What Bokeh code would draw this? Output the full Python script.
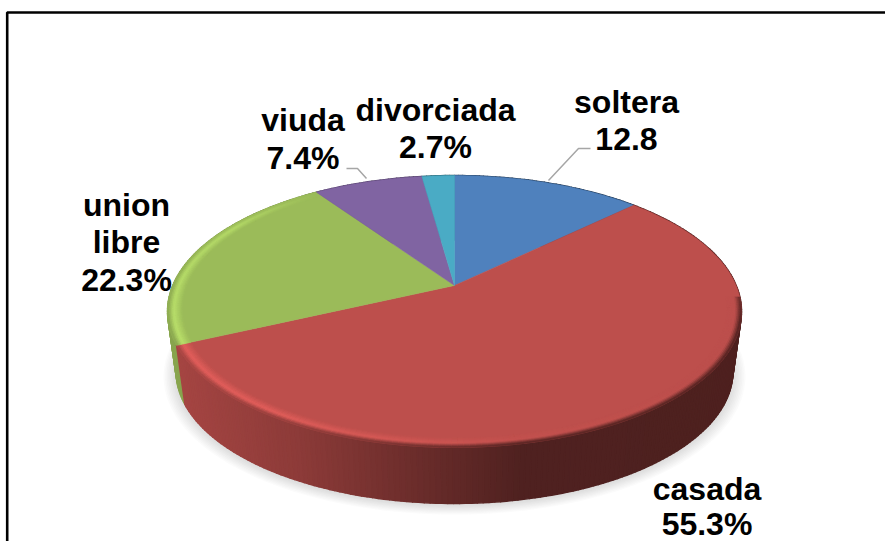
import numpy as np
from bokeh.plotting import figure
from bokeh.models import Range1d
from bokeh.core.properties import value
from bokeh.embed import file_html
from bokeh.resources import INLINE

# ---- data
categories = ["soltera", "casada", "union libre", "viuda", "divorciada"]
percent = [12.8, 55.3, 22.3, 7.4, 2.7]
label_lines = [["soltera", "12.8"], ["casada", "55.3%"], ["union", "libre", "22.3%"],
               ["viuda", "7.4%"], ["divorciada", "2.7%"]]
face_colors = ["#4f81bd", "#bd4f4c", "#9bbb59", "#8064a2", "#4aabc5"]

# ---- layout of the projected 3D pie
W, H = 885, 541
CX, CY, A, B, K = 454.0, 285.0, 281.7, 131.0, 0.191
BASE_S, BASE_DY = 0.97, 60.9
label_x = [626, 706.5, 126, 302.5, 435]
label_base = [[113, 150], [500, 535], [215.5, 253, 291], [131, 169], [120.5, 158]]
TEXT_DY = -11.5
FONT = value("Liberation Sans")


def proj(t, r=1.0, s=1.0, dy=0.0):
    t = np.radians(t)
    u, v = np.sin(t) * r, np.cos(t) * r
    w = 1 + K * v
    return CX + A * u / w * s, CY - B * v / w * s + dy


def rgb(c):
    return np.array([int(c[i:i + 2], 16) for i in (1, 3, 5)], float)


def hexc(a):
    a = np.clip(np.round(a), 0, 255).astype(int)
    return "#%02x%02x%02x" % tuple(a)


def side_factor(x):
    return np.interp(x, [170, 300, 420, 520, 745], [0.88, 0.74, 0.56, 0.42, 0.41])


ends = np.minimum(np.cumsum(percent), 100.0) * 3.6
starts = np.concatenate([[0.0], ends[:-1]])

p = figure(width=W, height=H, x_range=Range1d(0, W), y_range=Range1d(H, 0),
           output_backend="svg", toolbar_location=None, min_border=0,
           outline_line_color=None, background_fill_color="white")
p.axis.visible = False
p.grid.visible = False
p.styles = {"position": "absolute", "left": "0px", "top": "0px"}

# frame (top and left only, as in the picture)
p.line([6.7, 6.7, W], [H, 12, 12], line_color="black", line_width=2.6)

# soft shadow under the pie
tt = np.linspace(0, 360, 181)
for i in range(9):
    x, y = proj(tt, r=1.0, s=BASE_S * (1.045 - i * 0.0055), dy=BASE_DY + 4 - i * 0.3)
    p.patch(list(x), list(y), fill_color="#808080", fill_alpha=0.035, line_color=None)

# side wall: quads between top rim and base rim, far ones first
segs = []
for a0, a1, col in zip(starts, ends, face_colors):
    n = max(int((a1 - a0) / 1.0), 1)
    e = np.linspace(a0, a1, n + 1)
    for t0, t1 in zip(e[:-1], e[1:]):
        segs.append((t0, t1, col))
segs.sort(key=lambda s: -np.cos(np.radians((s[0] + s[1]) / 2)))
xs, ys, cs = [], [], []
for t0, t1, col in segs:
    x0, y0 = proj(t0)
    x1, y1 = proj(t1)
    x2, y2 = proj(t1, s=BASE_S, dy=BASE_DY)
    x3, y3 = proj(t0, s=BASE_S, dy=BASE_DY)
    xs.append([x0, x1, x2, x3])
    ys.append([y0, y1, y2, y3])
    cs.append(hexc(rgb(col) * side_factor((x0 + x1) / 2)))
p.patches(xs, ys, fill_color=cs, line_color=cs, line_width=1.5, line_join="round")

# top faces
for a0, a1, col in zip(starts, ends, face_colors):
    e = np.linspace(a0, a1, max(int(a1 - a0), 2) + 1)
    x, y = proj(e)
    p.patch([CX] + list(x), [CY] + list(y), fill_color=col, line_color=col, line_width=0.5)

# bevel along the near rim
bx, by, bc = [], [], []
radii = np.linspace(0.95, 1.0, 11)
for a0, a1, col in zip(starts, ends, face_colors):
    lo, hi = max(a0, 95.0), min(a1, 325.0)
    if hi <= lo:
        continue
    e = np.linspace(lo, hi, int((hi - lo) / 1.0) + 2)
    base = rgb(col)
    for t0, t1 in zip(e[:-1], e[1:]):
        tm = (t0 + t1) / 2
        v = np.cos(np.radians(tm))
        g = np.interp(v, [-0.25, 0.45], [1, 0]) if v > -0.25 else 1.0
        h = np.interp(tm, [130, 170, 190, 215, 245, 300, 325], [0, 0.2, 0.6, 1, 1, 0.8, 0])
        xm, _ = proj(tm)
        outer = base * (1 - g * (1 - side_factor(xm)))
        high = np.minimum(base * (1 + 0.2 * h), 255)
        for j, (r0, r1) in enumerate(zip(radii[:-1], radii[1:])):
            q = (j + 0.5) / (len(radii) - 1)
            if q < 0.6:
                c = base + (high - base) * q / 0.6
            else:
                c = high + (outer - high) * (q - 0.6) / 0.4
            x0, y0 = proj(t0, r=r0)
            x1, y1 = proj(t1, r=r0)
            x2, y2 = proj(t1, r=r1)
            x3, y3 = proj(t0, r=r1)
            bx.append([x0, x1, x2, x3])
            by.append([y0, y1, y2, y3])
            bc.append(hexc(c))
p.patches(bx, by, fill_color=bc, line_color=bc, line_width=0.8)

# leader lines
p.line([548, 578, 590], [180, 148, 148], line_color="#a6a6a6", line_width=1.5)
p.line([346, 357, 366], [168, 168, 178], line_color="#a6a6a6", line_width=1.5)

# labels
for lx, lines, bases in zip(label_x, label_lines, label_base):
    p.text([lx] * len(lines), [b + TEXT_DY for b in bases], text=lines, text_font=FONT,
           text_font_style="bold", text_font_size="32px", text_align="center",
           text_baseline="alphabetic", text_color="black")

open("out.html", "w").write(file_html(p, INLINE))
